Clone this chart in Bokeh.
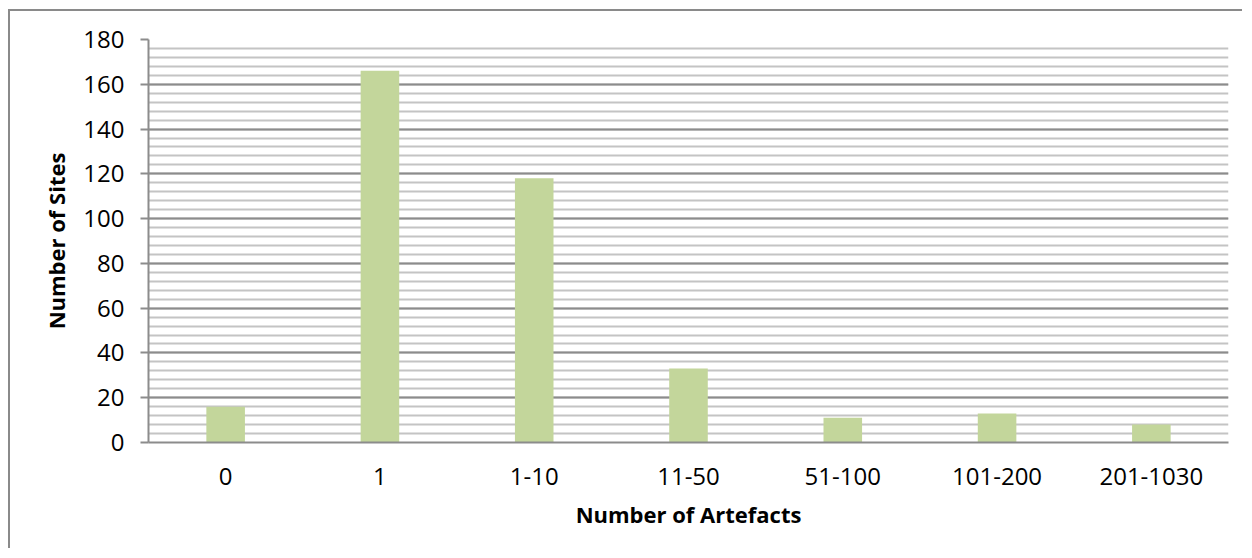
from bokeh.plotting import figure
from bokeh.models import ColumnDataSource, Range1d, FactorRange, SingleIntervalTicker
from bokeh.embed import file_html
from bokeh.resources import INLINE

categories = ["0", "1", "1-10", "11-50", "51-100", "101-200", "201-1030"]
sites = [16, 166, 118, 33, 11, 13, 8]
y_ticks = [0, 20, 40, 60, 80, 100, 120, 140, 160, 180]

FONT = "Open Sans"
src = ColumnDataSource(dict(cat=categories, val=sites))

p = figure(
    x_range=FactorRange(*categories),
    y_range=Range1d(0, 180),
    width=1234, height=539,
    output_backend="svg", toolbar_location=None,
    min_border_left=138, min_border_right=16,
    min_border_top=28, min_border_bottom=108,
    background_fill_color="white", border_fill_color="white",
)
p.styles = {"border-left": "2px solid #8a8a8a", "border-top": "2px solid #8a8a8a",
            "margin-top": "9px", "margin-left": "8px"}
p.outline_line_color = None

p.vbar(x="cat", top="val", width=0.25, source=src,
       fill_color="#C3D69B", line_color=None)

# grid
p.xgrid.grid_line_color = None
p.yaxis.ticker = SingleIntervalTicker(interval=20, num_minor_ticks=5)
p.ygrid.grid_line_color = "#8c8c8c"
p.ygrid.grid_line_width = 2
p.ygrid.minor_grid_line_color = "#c4c4c4"
p.ygrid.minor_grid_line_width = 2

# y axis
p.yaxis.axis_label = "Number of Sites"
p.yaxis.axis_line_color = "#8c8c8c"
p.yaxis.axis_line_width = 2
p.yaxis.major_tick_line_color = "#8c8c8c"
p.yaxis.major_tick_line_width = 2
p.yaxis.major_tick_out = 8
p.yaxis.major_tick_in = 0
p.yaxis.minor_tick_line_color = None
p.yaxis.major_label_standoff = 16
p.yaxis.axis_label_standoff = 9

# x axis
p.xaxis.axis_label = "Number of Artefacts"
p.xaxis.axis_line_color = "#8c8c8c"
p.xaxis.axis_line_width = 2
p.xaxis.major_tick_line_color = None
p.xaxis.minor_tick_line_color = None
p.xaxis.major_label_standoff = 19
p.xaxis.axis_label_standoff = 11

for ax in (p.xaxis, p.yaxis):
    ax.major_label_text_font = FONT
    ax.major_label_text_font_size = "24px"
    ax.major_label_text_color = "black"
    ax.axis_label_text_font = FONT
    ax.axis_label_text_font_size = "22px"
    ax.axis_label_text_font_style = "bold"
    ax.axis_label_text_color = "black"

open("out.html", "w").write(file_html(p, INLINE))
